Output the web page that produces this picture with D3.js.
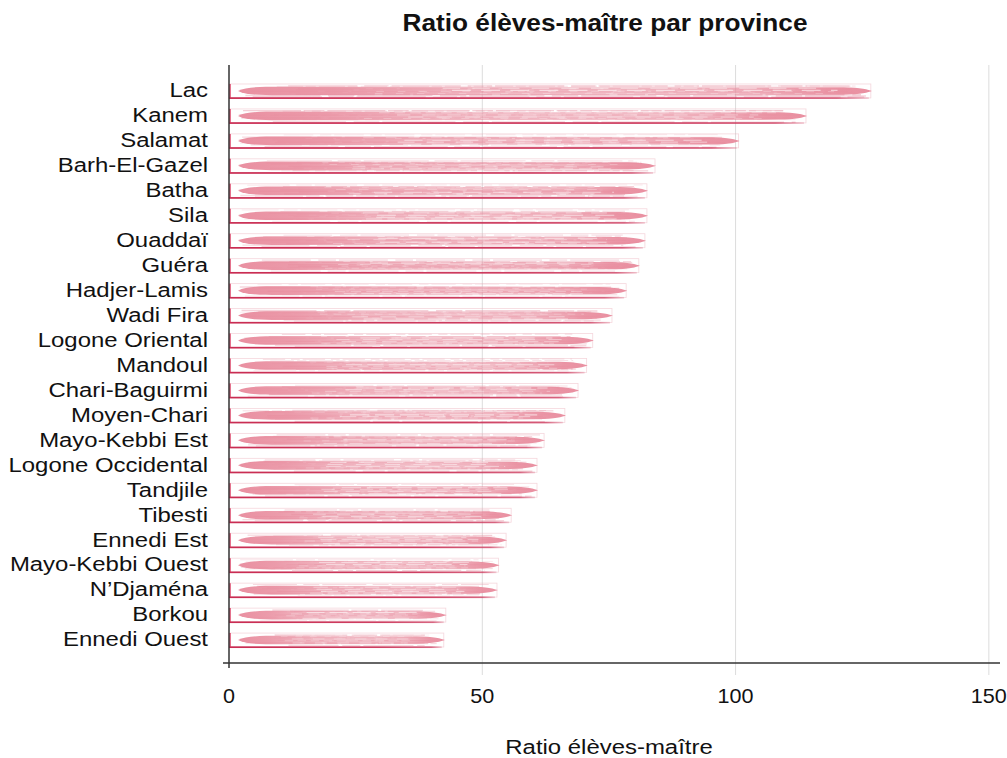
<!DOCTYPE html>
<html>
<head>
<meta charset="utf-8">
<script src="https://cdn.jsdelivr.net/npm/d3@7"></script>
<style>
  html, body { margin: 0; padding: 0; background: #fff; }
  svg { display: block; }
  text { font-family: "Liberation Sans", Arial, sans-serif; fill: #111; }
</style>
</head>
<body>
<script>
// Provinces, ordered from highest to lowest pupil-teacher ratio
const provinces = [
  "Lac", "Kanem", "Salamat", "Barh-El-Gazel", "Batha", "Sila", "Ouaddaï",
  "Guéra", "Hadjer-Lamis", "Wadi Fira", "Logone Oriental", "Mandoul",
  "Chari-Baguirmi", "Moyen-Chari", "Mayo-Kebbi Est", "Logone Occidental",
  "Tandjile", "Tibesti", "Ennedi Est", "Mayo-Kebbi Ouest", "N’Djaména",
  "Borkou", "Ennedi Ouest"
];
const ratios = [
  126.7, 113.9, 100.6, 84.1, 82.5, 82.5, 82.1,
  80.9, 78.4, 75.6, 71.8, 70.6,
  68.9, 66.3, 62.2, 60.8,
  60.8, 55.7, 54.7, 53.2, 52.9,
  42.8, 42.4
];
const xTicks = [0, 50, 100, 150];

const W = 1007, H = 758;
const plotLeft = 229, plotRight = 1000, plotTop = 68, plotBottom = 663;
const stretch = 1.14; // wide lettering

const svg = d3.select("body").append("svg").attr("width", W).attr("height", H);

const x = d3.scaleLinear().domain([0, 152.2]).range([plotLeft, plotRight]);
const y = d3.scaleBand().domain(provinces).range([plotTop, plotBottom])
  .paddingInner(0.44).paddingOuter(0.64);

// gradients for the brushed look
const defs = svg.append("defs");
const lensGrad = defs.append("linearGradient").attr("id", "lensGrad");
[[0, 0.95], [0.15, 0.85], [0.35, 0.6], [0.6, 0.5], [0.8, 0.6], [0.93, 0.9], [1, 0.95]]
  .forEach(([o, a]) => lensGrad.append("stop").attr("offset", o)
    .attr("stop-color", "#e88a9c").attr("stop-opacity", a));
const topGrad = defs.append("linearGradient").attr("id", "topGrad");
[[0, 1], [0.6, 0.9], [0.85, 0.5], [1, 0.3]]
  .forEach(([o, a]) => topGrad.append("stop").attr("offset", o)
    .attr("stop-color", "#dc3660").attr("stop-opacity", a));
const botGrad = defs.append("linearGradient").attr("id", "botGrad");
[[0, 1], [0.7, 0.9], [0.95, 0.7], [1, 0.2]]
  .forEach(([o, a]) => botGrad.append("stop").attr("offset", o)
    .attr("stop-color", "#c92c52").attr("stop-opacity", a));

// gridlines
const grid = svg.append("g");
grid.selectAll("line").data(xTicks.filter(d => d > 0)).join("line")
  .attr("x1", d => x(d)).attr("x2", d => x(d))
  .attr("y1", 65).attr("y2", 675)
  .attr("stroke", "#dcdcdc").attr("stroke-width", 1);

// deterministic jitter for brush streaks
function hash(n) {
  const s = Math.sin(n * 127.1 + 311.7) * 43758.5453;
  return s - Math.floor(s);
}

const bars = svg.append("g");
provinces.forEach((p, i) => {
  const v = ratios[i];
  const y0 = y(p), bh = y.bandwidth(), cy = y0 + bh / 2;
  const x0 = x(0), x1 = x(v);
  const g = bars.append("g");

  // faint outline on the right end
  g.append("rect")
    .attr("x", x0).attr("y", y0).attr("width", x1 - x0).attr("height", bh)
    .attr("fill", "none").attr("stroke", "#e9a5b2").attr("stroke-opacity", 0.45)
    .attr("stroke-width", 0.8);

  // brush streaks inside the bar
  for (let k = 0; k < 9; k++) {
    const h = hash(i * 31 + k);
    const yy = y0 + 1.5 + k * (bh - 3) / 8 + (h - 0.5) * 1.2;
    const sx = x0 + 10 + hash(i * 17 + k * 3) * 60;
    const ex = x1 - 4 - hash(i * 13 + k * 5) * 20;
    g.append("line")
      .attr("x1", sx).attr("x2", ex).attr("y1", yy).attr("y2", yy + (h - 0.5) * 0.8)
      .attr("stroke", "#e58c9e")
      .attr("stroke-opacity", 0.18 + 0.25 * hash(i * 7 + k * 11))
      .attr("stroke-width", 0.7 + h * 0.9)
      .attr("stroke-dasharray", `${20 + h * 60},${2 + hash(k + i) * 6},${8 + h * 20},${3}`);
  }

  // tapered brush body
  const lh = 4.3, lx0 = x0 + 9, lx1 = x1 + 1;
  const taper = Math.min(28, (lx1 - lx0) * 0.25);
  const path = d3.path();
  path.moveTo(lx0, cy);
  path.bezierCurveTo(lx0 + 8, cy - lh, lx0 + 25, cy - lh, lx0 + 40, cy - lh);
  path.lineTo(lx1 - taper, cy - lh + 0.6);
  path.bezierCurveTo(lx1 - taper * 0.4, cy - lh + 0.8, lx1 - 3, cy - 1.2, lx1, cy);
  path.bezierCurveTo(lx1 - 3, cy + 1.2, lx1 - taper * 0.4, cy + lh - 0.8, lx1 - taper, cy + lh - 0.6);
  path.lineTo(lx0 + 40, cy + lh);
  path.bezierCurveTo(lx0 + 25, cy + lh, lx0 + 8, cy + lh, lx0, cy);
  path.closePath();
  g.append("path").attr("d", path.toString()).attr("fill", "url(#lensGrad)");

  // light gaps in the middle of the brush stroke
  for (let k = 0; k < 4; k++) {
    const h = hash(i * 53 + k * 7);
    const yy = cy - 3 + k * 2 + (h - 0.5);
    const sx = lx0 + (lx1 - lx0) * (0.2 + 0.15 * h);
    const ex = lx1 - taper - (lx1 - lx0) * 0.05 * hash(i + k * 19);
    g.append("line")
      .attr("x1", sx).attr("x2", ex).attr("y1", yy).attr("y2", yy)
      .attr("stroke", "#fff").attr("stroke-opacity", 0.35 + 0.2 * h)
      .attr("stroke-width", 0.6 + 0.5 * h)
      .attr("stroke-dasharray", `${6 + h * 14},${4 + hash(k * 3 + i) * 10}`);
  }

  // outline edges: strong left and bottom, fading top
  g.append("line").attr("x1", x0).attr("x2", x1).attr("y1", y0).attr("y2", y0)
    .attr("stroke", "url(#topGrad)").attr("stroke-width", 1.6);
  g.append("rect").attr("x", x0).attr("y", y0 + bh - 0.7).attr("width", x1 - x0 - 2).attr("height", 1.7)
    .attr("fill", "url(#botGrad)");
  g.append("line").attr("x1", x0 + 1).attr("x2", x0 + 1).attr("y1", y0).attr("y2", y0 + bh)
    .attr("stroke", "#d8355c").attr("stroke-width", 1.4);
});

// y axis line and category labels
svg.append("line").attr("x1", plotLeft).attr("x2", plotLeft).attr("y1", 65).attr("y2", 668)
  .attr("stroke", "#333").attr("stroke-width", 1.5);
svg.append("g").selectAll("text").data(provinces).join("text")
  .attr("transform", d => `translate(208,${y(d) + y.bandwidth() / 2}) scale(${stretch},1)`)
  .attr("dy", "0.3em").attr("text-anchor", "end")
  .attr("font-size", 21).text(d => d);

// x axis line and tick labels
svg.append("line").attr("x1", 223).attr("x2", plotRight).attr("y1", plotBottom).attr("y2", plotBottom)
  .attr("stroke", "#333").attr("stroke-width", 1.5);
svg.append("g").selectAll("text").data(xTicks).join("text")
  .attr("transform", d => `translate(${x(d)},703) scale(1.08,1)`)
  .attr("text-anchor", "middle")
  .attr("font-size", 20).text(d => d);

// axis title and chart title
svg.append("text").attr("transform", `translate(609,754) scale(${stretch},1)`)
  .attr("text-anchor", "middle")
  .attr("font-size", 21).text("Ratio élèves-maître");
svg.append("text").attr("transform", `translate(605,31) scale(${stretch},1)`)
  .attr("text-anchor", "middle")
  .attr("font-size", 23).attr("font-weight", "bold")
  .text("Ratio élèves-maître par province");
</script>
</body>
</html>
